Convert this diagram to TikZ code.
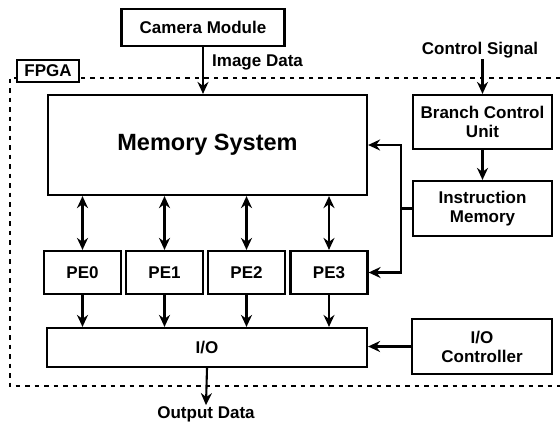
\documentclass[tikz,border=0pt]{standalone}
\usepackage{fontspec}
\setmainfont{Liberation Sans}
\usetikzlibrary{arrows.meta,calc}
\begin{document}
\begin{tikzpicture}[x=1pt,y=-1pt,
  box/.style={draw,line width=2.2pt,inner sep=0pt,align=center,
    font=\fontsize{17}{19}\selectfont\bfseries},
  lbl/.style={inner sep=1pt,font=\fontsize{17}{19}\selectfont\bfseries},
  tip/.tip={Stealth[length=12pt,width=11pt,inset=4pt]},
  arr/.style={line width=2.1pt,-tip},
  darr/.style={line width=2.1pt,tip-tip},
  ln/.style={line width=2.1pt},
  pebox/.style={box,minimum width=77pt,minimum height=43pt}]
\useasboundingbox (0,0) rectangle (560,424);
% FPGA frame
\draw[line width=2pt,dash pattern=on 4.5pt off 5pt] (560,78) -- (9.5,78) -- (9.5,386) -- (560,386);
\node[box,fill=white,minimum width=62pt,minimum height=22pt] (fpga) at (48,71) {FPGA};
% nodes
\node[box,minimum width=163pt,minimum height=37pt] (cam) at (203,27.5) {Camera Module};
\node[box,minimum width=319pt,minimum height=100pt,font=\fontsize{23.5}{26}\selectfont\bfseries] (mem) at (207.5,145) {Memory System};
\node[box,minimum width=139pt,minimum height=54pt] (bcu) at (482.5,122) {Branch Control\\Unit};
\node[box,minimum width=139pt,minimum height=55pt] (im) at (482.5,208.5) {Instruction\\Memory};
\node[pebox] (pe0) at (82.5,272.5) {PE0};
\node[pebox] (pe1) at (164.5,272.5) {PE1};
\node[pebox] (pe2) at (246.5,272.5) {PE2};
\node[pebox] (pe3) at (329,272.5) {PE3};
\node[box,minimum width=320pt,minimum height=39pt] (io) at (207,347.5) {I/O};
\node[box,minimum width=140pt,minimum height=55pt] (ioc) at (482,346.5) {I/O\\Controller};
\node[lbl,anchor=west] (imgd) at (211,62) {Image Data};
\node[lbl] (cs) at (480,50) {Control Signal};
\node[lbl] (out) at (206,414) {Output Data};
% connectors
\draw[arr] (cam.south) -- (cam.south|-mem.north);
\draw[arr] (cs.south-|bcu.north) -- (bcu.north);
\draw[arr] (bcu.south) -- (im.north);
\foreach \p in {pe0,pe1,pe2,pe3}{
  \draw[darr] (\p.north|-mem.south) -- (\p.north);
  \draw[arr] (\p.south) -- (\p.south|-io.north);
}
\coordinate (fb) at ($(im.west)+(-11,0)$);
\draw[ln] (im.west) -- (fb);
\draw[arr] (fb) |- (mem.east);
\draw[arr] (fb) |- (pe3.east);
\draw[arr] (ioc.west) -- (ioc.west-|io.east);
\draw[arr] (io.south) -- (out.north);
\end{tikzpicture}
\end{document}
